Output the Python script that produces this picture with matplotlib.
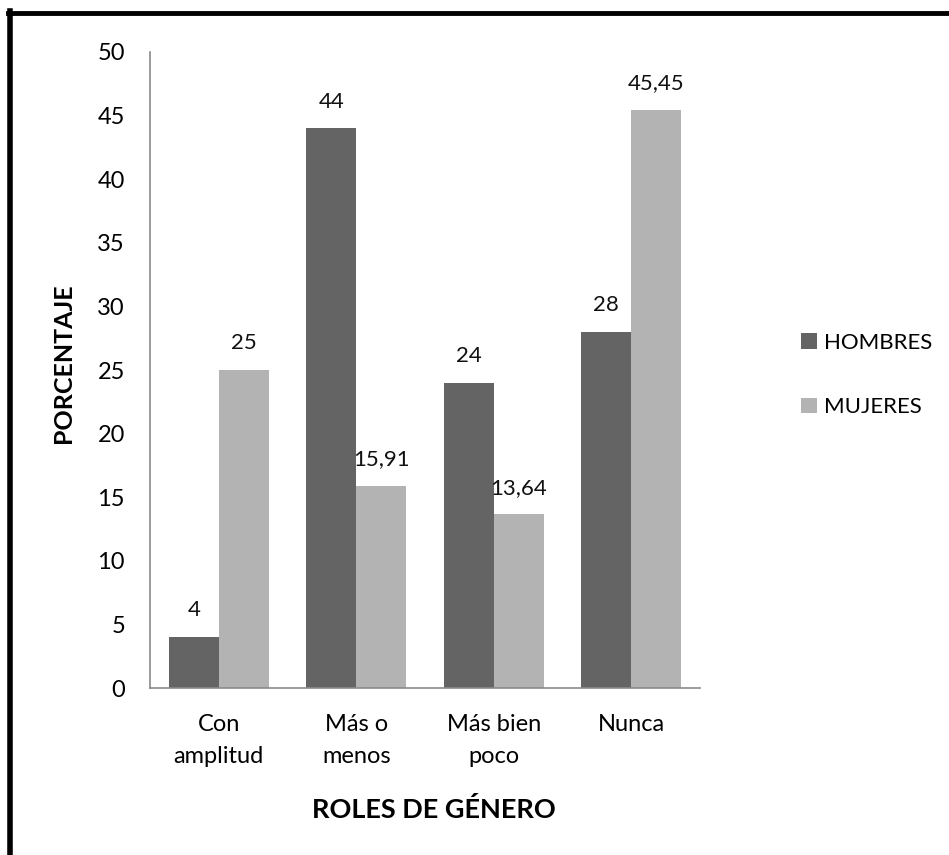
import matplotlib
matplotlib.use("Agg")
import matplotlib.pyplot as plt
import numpy as np
from matplotlib.lines import Line2D

categories = ["Con\namplitud", "Más o\nmenos", "Más bien\npoco", "Nunca"]
hombres = [4, 44, 24, 28]
mujeres = [25, 15.91, 13.64, 45.45]
hombres_lbl = ["4", "44", "24", "28"]
mujeres_lbl = ["25", "15,91", "13,64", "45,45"]
yticks = [0, 5, 10, 15, 20, 25, 30, 35, 40, 45, 50]

plt.rcParams['font.family'] = ['Lato', 'DejaVu Sans']

fig = plt.figure(figsize=(9.49, 8.55), dpi=100)
ax = fig.add_axes([150/949, 1-688/855, 550/949, (688-52)/855])

x = np.arange(len(categories))
w = 0.3636
dark = "#646464"
light = "#b3b3b3"
b1 = ax.bar(x - w/2, hombres, w, color=dark, label="HOMBRES")
b2 = ax.bar(x + w/2, mujeres, w, color=light, label="MUJERES")
for bars, lbls in ((b1, hombres_lbl), (b2, mujeres_lbl)):
    for r, t in zip(bars, lbls):
        ax.annotate(t, (r.get_x() + r.get_width()/2, r.get_height()),
                    xytext=(0, 12), textcoords="offset points",
                    ha="center", va="bottom", fontsize=16, color="#111111")

ax.set_xlim(-0.5, 3.5)
ax.set_ylim(0, 50)
ax.set_yticks(yticks)
ax.set_xticks(x)
ax.set_xticklabels(categories, fontsize=17, linespacing=1.6)
ax.tick_params(axis='y', length=0, pad=18, labelsize=17)
ax.tick_params(axis='x', length=0, pad=19, labelsize=17)
for s in ("top", "right"):
    ax.spines[s].set_visible(False)
for s in ("left", "bottom"):
    ax.spines[s].set_color("#8a8a8a")
    ax.spines[s].set_linewidth(1.2)

ax.set_ylabel("PORCENTAJE", fontsize=18, fontweight="bold")
ax.yaxis.set_label_coords(-(150-64)/550, (688-363)/636)
ax.set_xlabel("ROLES DE GÉNERO", fontsize=19.5, fontweight="bold")
ax.xaxis.set_label_coords((434-150)/550, -(809-688)/636)
ax.xaxis.label.set_va("center")
ax.yaxis.label.set_va("center")

leg = fig.legend(handles=[b1, b2], loc="center left",
                 bbox_to_anchor=(781/949, 1-375/855), frameon=False,
                 fontsize=16, handlelength=0.7, handleheight=0.7,
                 handletextpad=0.35, labelspacing=2.0)

fig.add_artist(Line2D([7.5/949, 7.5/949 + 1], [1-13.5/855, 1-13.5/855],
                      transform=fig.transFigure, color="black", lw=3.5))
fig.add_artist(Line2D([9.5/949, 9.5/949], [1-11.5/855, -1],
                      transform=fig.transFigure, color="black", lw=4))

fig.savefig("out.png", dpi=100)
